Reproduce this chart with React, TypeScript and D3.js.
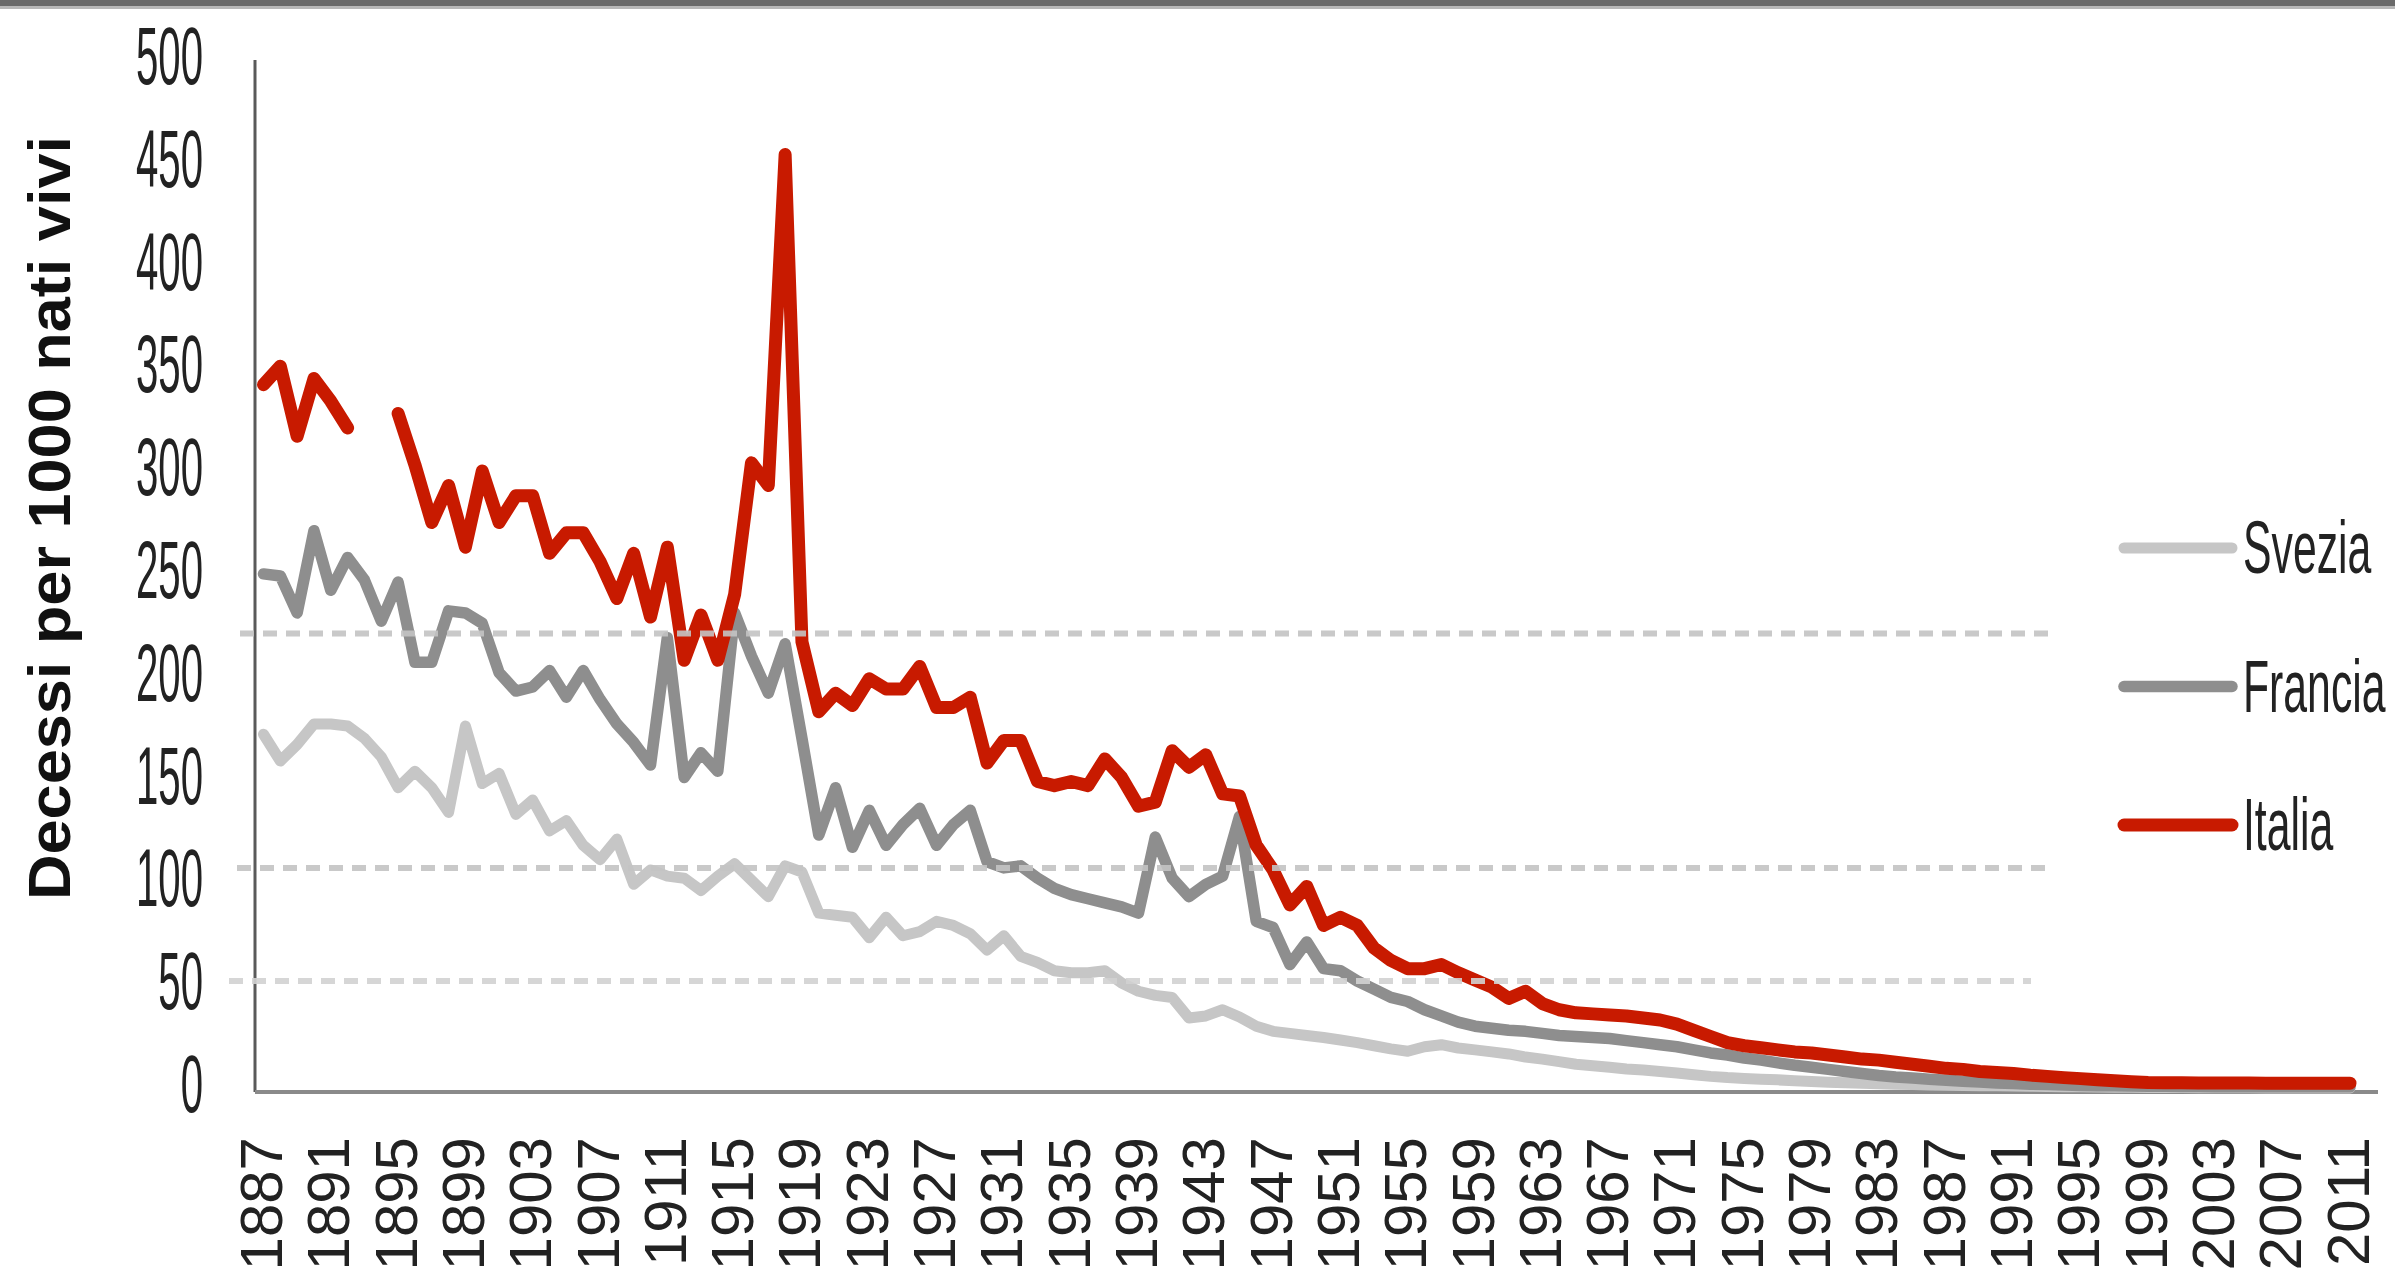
import { useEffect, useRef } from 'react';
import * as d3 from 'd3';

// deaths per 1000 live births, one value per year, 1887 .. 2011
const firstYear = 1887;
const lastYear = 2011;

const svezia: number[] = [
  174, 161, 169, 179, 179, 178, 172, 163, 148, 156, // 1887-1896
  148, 136, 178, 150, 155, 135, 142, 127, 132, 120, // 1897-1906
  113, 123, 101, 108, 105, 104, 98, 105, 111, 103, // 1907-1916
  95, 110, 107, 87, 86, 85, 75, 85, 76, 78, // 1917-1926
  83, 81, 77, 69, 76, 66, 63, 59, 58, 58, // 1927-1936
  59, 53, 49, 47, 46, 36, 37, 40, 36.5, 32, // 1937-1946
  29.5, 28.5, 27.5, 26.5, 25.3, 24, 22.5, 21, 19.8, 22, // 1947-1956
  23, 21.4, 20.5, 19.5, 18.5, 17, 16, 14.8, 13.5, 12.8, // 1957-1966
  12, 11.2, 10.7, 10, 9.2, 8.4, 7.6, 7, 6.6, 6.2, // 1967-1976
  5.9, 5.5, 5.1, 4.8, 4.5, 4.2, 4, 3.8, 3.6, 3.4, // 1977-1986
  3.3, 3.2, 3.1, 3, 2.9, 2.8, 2.7, 2.6, 2.5, 2.4, // 1987-1996
  2.3, 2.3, 2.2, 2.2, 2.2, 2.1, 2.1, 2.1, 2.1, 2, // 1997-2006
  2, 2, 2, 2, 2, // 2007-2011
];

const francia: number[] = [
  252, 251, 233, 273, 244, 260, 249, 229, 248, 209, // 1887-1896
  209, 234, 233, 228, 204, 195, 197, 205, 192, 205, // 1897-1906
  191, 179, 170, 159, 221, 153, 165, 156, 233, 212, // 1907-1916
  194, 218, 172, 125, 148, 119, 137, 120, 130, 138, // 1917-1926
  120, 130, 137, 112, 109, 110, 104, 99, 96, 94, // 1927-1936
  92, 90, 87, 124, 104, 95, 101, 105, 134, 83, // 1937-1946
  80, 62, 73, 60, 59, 54, 50, 46, 44, 40, // 1947-1956
  37, 34, 32, 31, 30, 29.5, 28.5, 27.5, 27, 26.5, // 1957-1966
  26, 25, 24, 23, 22, 20.5, 19, 18, 16.5, 15.5, // 1967-1976
  14.2, 13, 12, 11, 10, 9, 8, 7.3, 6.8, 6.2, // 1977-1986
  5.7, 5.2, 4.8, 4.4, 4.1, 3.8, 3.6, 3.4, 3.2, 3.1, // 1987-1996
  3, 2.9, 2.8, 2.8, 2.7, 2.7, 2.6, 2.6, 2.6, 2.5, // 1997-2006
  2.5, 2.5, 2.5, 2.5, 2.5, // 2007-2011
];

const italia: (number | null)[] = [
  344, 353, 319, 347, 336, 323, null, null, 330, 305, // 1887-1896
  277, 295, 265, 302, 277, 290, 290, 262, 272, 272, // 1897-1906
  258, 240, 262, 231, 265, 210, 232, 210, 242, 306, // 1907-1916
  295, 456, 219, 185, 194, 188, 201, 196, 196, 207, // 1917-1926
  187, 187, 192, 160, 171, 171, 151, 149, 151, 149, // 1927-1936
  162, 153, 139, 141, 166, 158, 164, 145, 144, 120, // 1937-1946
  108, 91, 100, 81, 85, 81, 70, 64, 60, 60, // 1947-1956
  62, 58, 54.5, 51, 45.5, 49, 43, 40, 38.5, 38, // 1957-1966
  37.5, 37, 36, 35, 33, 30, 27, 24, 22.5, 21.5, // 1967-1976
  20.5, 19.5, 19, 18, 17, 16, 15.5, 14.5, 13.5, 12.5, // 1977-1986
  11.5, 11, 10, 9.5, 9, 8.2, 7.6, 7, 6.5, 6, // 1987-1996
  5.5, 5, 4.6, 4.5, 4.5, 4.4, 4.4, 4.4, 4.4, 4.3, // 1997-2006
  4.3, 4.3, 4.3, 4.3, 4.3, // 2007-2011
];

const seriesNames = ['Svezia', 'Francia', 'Italia'];
const tickYears = [
  1887, 1891, 1895, 1899, 1903, 1907, 1911, 1915, 1919, 1923, 1927, 1931,
  1935, 1939, 1943, 1947, 1951, 1955, 1959, 1963, 1967, 1971, 1975, 1979,
  1983, 1987, 1991, 1995, 1999, 2003, 2007, 2011,
];
const yTicks = [0, 50, 100, 150, 200, 250, 300, 350, 400, 450, 500];
const refLines = [223, 109, 54];

const App = () => {
  const svgRef = useRef<SVGSVGElement>(null);

  useEffect(() => {
    if (!svgRef.current) return;

    const svg = d3.select(svgRef.current);
    svg.selectAll('*').remove();

    const width = 2395;
    const height = 1282;
    const font = "'Liberation Sans', Arial, sans-serif";
    const colors: Record<string, string> = {
      Svezia: '#c6c6c6',
      Francia: '#8e8e8e',
      Italia: '#c81a00',
    };
    const widths: Record<string, number> = { Svezia: 11, Francia: 11.5, Italia: 13 };
    const values: Record<string, (number | null)[]> = {
      Svezia: svezia,
      Francia: francia,
      Italia: italia,
    };

    svg.attr('width', width).attr('height', height);

    const x = d3.scaleLinear().domain([firstYear, lastYear]).range([263.5, 2350]);
    const y = d3.scaleLinear().domain([0, 500]).range([1092, 64]);

    // frame line at the very top
    svg.append('rect').attr('x', 0).attr('y', 0).attr('width', width).attr('height', 6).attr('fill', '#6a6a6a');
    svg.append('rect').attr('x', 0).attr('y', 6).attr('width', width).attr('height', 3).attr('fill', '#b8b8b8');

    // axes
    svg
      .append('line')
      .attr('x1', 255)
      .attr('x2', 255)
      .attr('y1', 60)
      .attr('y2', y(0))
      .attr('stroke', '#5a5a5a')
      .attr('stroke-width', 3);

    svg
      .append('line')
      .attr('x1', 255)
      .attr('x2', 2378)
      .attr('y1', y(0))
      .attr('y2', y(0))
      .attr('stroke', '#8a8a8a')
      .attr('stroke-width', 4);

    // y tick labels (narrow)
    svg
      .selectAll('.ytick')
      .data(yTicks)
      .enter()
      .append('text')
      .attr('class', 'ytick')
      .attr('transform', (d) => `translate(203,${y(d) + 20}) scale(0.49,1)`)
      .attr('text-anchor', 'end')
      .attr('font-family', font)
      .attr('font-size', 82)
      .attr('fill', '#222')
      .text((d) => d);

    // x tick labels, rotated
    svg
      .selectAll('.xtick')
      .data(tickYears)
      .enter()
      .append('text')
      .attr('class', 'xtick')
      .attr('transform', (d) => `translate(${x(d) + 18.5},1137) rotate(-90)`)
      .attr('text-anchor', 'end')
      .attr('font-family', font)
      .attr('font-size', 60)
      .attr('fill', '#222')
      .text((d) => d);

    // axis title
    svg
      .append('text')
      .attr('transform', 'translate(70,518) rotate(-90)')
      .attr('text-anchor', 'middle')
      .attr('font-family', font)
      .attr('font-weight', 'bold')
      .attr('font-size', 60)
      .attr('textLength', 764)
      .attr('lengthAdjust', 'spacingAndGlyphs')
      .attr('fill', '#111')
      .text('Decessi per 1000 nati vivi');

    // series
    const line = d3
      .line<number | null>()
      .defined((d) => d !== null)
      .x((_, i) => x(firstYear + i))
      .y((d) => y(d as number));

    seriesNames.forEach((name) => {
      svg
        .append('path')
        .datum(values[name])
        .attr('d', line)
        .attr('fill', 'none')
        .attr('stroke', colors[name])
        .attr('stroke-width', widths[name])
        .attr('stroke-linejoin', 'round')
        .attr('stroke-linecap', 'round');
    });

    // dashed reference lines, drawn over the series
    const refSpan: Record<number, [number, number]> = {
      223: [240, 2050],
      109: [237, 2046],
      54: [229, 2031],
    };
    svg
      .selectAll('.ref')
      .data(refLines)
      .enter()
      .append('line')
      .attr('class', 'ref')
      .attr('x1', (d) => refSpan[d][0])
      .attr('x2', (d) => refSpan[d][1])
      .attr('y1', (d) => y(d))
      .attr('y2', (d) => y(d))
      .attr('stroke', (d) => (d === 54 ? '#d2d2d2' : '#c4c4c4'))
      .attr('stroke-width', 6)
      .attr('stroke-dasharray', '14 9')
      .attr('opacity', 0.9);

    // legend
    const legendY = d3.scalePoint<string>().domain(seriesNames).range([548, 825]);
    const legend = svg
      .selectAll('.legend')
      .data(seriesNames)
      .enter()
      .append('g')
      .attr('class', 'legend')
      .attr('transform', (d) => `translate(0,${legendY(d)})`);

    legend
      .append('line')
      .attr('x1', 2124)
      .attr('x2', 2232)
      .attr('stroke', (d) => colors[d])
      .attr('stroke-width', (d) => widths[d])
      .attr('stroke-linecap', 'round');

    legend
      .append('text')
      .attr('transform', 'translate(2243,25) scale(0.57,1)')
      .attr('font-family', font)
      .attr('font-size', 75)
      .attr('fill', '#222')
      .text((d) => d);
  }, []);

  return <svg ref={svgRef} style={{ position: 'absolute', left: 0, top: 0, display: 'block' }}></svg>;
};

export default App;
